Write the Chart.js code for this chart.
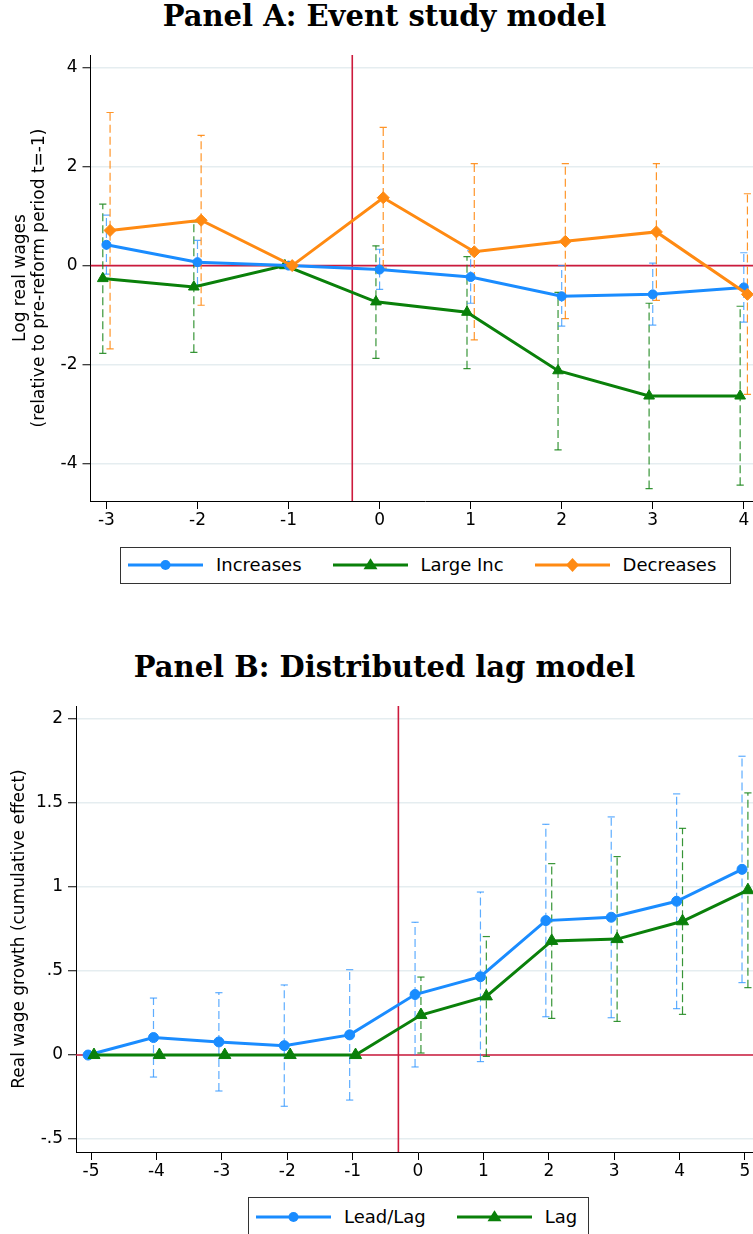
<!DOCTYPE html>
<html><head><meta charset="utf-8">
<script src="https://cdn.jsdelivr.net/npm/chart.js@4.4.0/dist/chart.umd.min.js"></script>
<style>
html,body{margin:0;padding:0;background:#fff;overflow:hidden;}
body{width:753px;height:1234px;position:relative;}
.ttl{position:absolute;left:0;width:769px;text-align:center;font-family:'DejaVu Serif';font-weight:bold;font-size:29px;line-height:29px;color:#000;white-space:nowrap;}
.cv{position:absolute;left:0;}
.leg{position:absolute;border:1px solid #333;box-sizing:border-box;background:#fff;display:flex;align-items:center;padding-left:7.5px;}
.item{display:flex;align-items:center;margin-right:31px;}
.item svg{margin-right:13px;display:block;}
.lt{font-family:'DejaVu Sans';font-size:18px;line-height:18px;color:#000;white-space:nowrap;}
</style></head><body>
<div class="ttl" style="top:1.5px">Panel A: Event study model</div>
<canvas class="cv" id="cA" width="769" height="498" style="top:39px"></canvas>
<div class="leg" id="lA" style="left:119.5px;top:546.5px;width:611.5px;height:37.5px"></div>
<div class="ttl" style="top:652.8px">Panel B: Distributed lag model</div>
<canvas class="cv" id="cB" width="769" height="498" style="top:690px"></canvas>
<div class="leg" id="lB" style="left:247.5px;top:1197px;width:341.5px;height:40px"></div>
<script>
// ---------- Panel A data (event study) ----------
const periodsA = [-3, -2, -1, 0, 1, 2, 3, 4];
const incA     = [0.42, 0.07, 0, -0.08, -0.23, -0.62, -0.58, -0.44];
const incLoA   = [-0.17, -0.39, null, -0.48, -0.76, -1.22, -1.20, -1.14];
const incHiA   = [1.02, 0.51, null, 0.33, 0.30, 0.00, 0.05, 0.26];
const largeA   = [-0.26, -0.43, 0, -0.73, -0.94, -2.12, -2.63, -2.63];
const largeLoA = [-1.77, -1.75, null, -1.87, -2.08, -3.72, -4.50, -4.43];
const largeHiA = [1.24, 0.88, null, 0.40, 0.18, -0.54, -0.76, -0.82];
const decA     = [0.71, 0.915, 0, 1.37, 0.28, 0.49, 0.68, -0.58];
const decLoA   = [-1.68, -0.80, null, -0.05, -1.50, -1.07, -0.70, -2.60];
const decHiA   = [3.09, 2.63, null, 2.79, 2.06, 2.06, 2.06, 1.45];
const xTicksA  = [-3, -2, -1, 0, 1, 2, 3, 4];
const xTickLabelsA = ['-3', '-2', '-1', '0', '1', '2', '3', '4'];
const yTicksA  = [-4, -2, 0, 2, 4];
const yTickLabelsA = ['-4', '-2', '0', '2', '4'];

// ---------- Panel B data (distributed lag) ----------
const periodsB  = [-5, -4, -3, -2, -1, 0, 1, 2, 3, 4, 5];
const leadLagB  = [0, 0.104, 0.078, 0.056, 0.12, 0.36, 0.466, 0.80, 0.82, 0.915, 1.105];
const leadLagLo = [null, -0.131, -0.214, -0.305, -0.268, -0.071, -0.039, 0.228, 0.222, 0.276, 0.431];
const leadLagHi = [null, 0.339, 0.371, 0.417, 0.508, 0.790, 0.970, 1.373, 1.417, 1.554, 1.778];
const lagB      = [0, 0, 0, 0, 0, 0.238, 0.349, 0.679, 0.690, 0.796, 0.981];
const lagLo     = [null, null, null, null, null, 0.012, -0.008, 0.218, 0.200, 0.242, 0.401];
const lagHi     = [null, null, null, null, null, 0.464, 0.705, 1.139, 1.181, 1.349, 1.560];
const xTicksB   = [-5, -4, -3, -2, -1, 0, 1, 2, 3, 4, 5];
const xTickLabelsB = ['-5', '-4', '-3', '-2', '-1', '0', '1', '2', '3', '4', '5'];
const yTicksB   = [-0.5, 0, 0.5, 1, 1.5, 2];
const yTickLabelsB = ['-.5', '0', '.5', '1', '1.5', '2'];

const reformX = -0.3;
const rangeA = {xmin: -3.175, xmax: 4.178, ymin: -4.75, ymax: 4.25};
const rangeB = {xmin: -5.23, xmax: 5.23, ymin: -0.577, ymax: 2.077};

const BLUE = '#1a8cff', GREEN = '#0a800a', ORANGE = '#ff8a12', RED = '#cc1a3c';
const BLUE_CI = 'rgba(40,145,255,0.75)', GREEN_CI = 'rgba(20,130,20,0.85)', ORANGE_CI = 'rgba(255,138,18,0.9)';

Chart.defaults.font.family = 'DejaVu Sans';

function pts(xs, ys, off) { return xs.map((x, i) => ({x: x + off, y: ys[i]})); }
function ciPts(xs, lo, hi, off) {
  const out = [];
  xs.forEach((x, i) => {
    if (lo[i] == null) return;
    out.push({x: x + off, y: lo[i]}, {x: x + off, y: hi[i]}, {x: x + off, y: null});
  });
  return out;
}
function mainDs(data, color, style, r, order) {
  return {data, borderColor: color, backgroundColor: color, borderWidth: 3, tension: 0,
    pointStyle: style, pointRadius: r, pointBorderWidth: 1, pointBackgroundColor: color,
    pointBorderColor: color, order};
}
function ciDs(data, color, order) {
  return {data, borderColor: color, borderWidth: 1.2, borderDash: [8, 4], spanGaps: false,
    pointStyle: 'line', pointRadius: 3.6, pointBorderWidth: 1.2, pointBorderColor: color,
    pointBackgroundColor: color, order};
}
function refDs(data) {
  return {data, borderColor: RED, borderWidth: 1.6, pointRadius: 0, order: 50};
}
function opts(range, xT, xL, yT, yL, yW, yTitle, titlePad) {
  const tickFont = {family: 'DejaVu Sans', size: 17};
  return {
    responsive: false, animation: false, events: [],
    layout: {padding: {top: 16, left: 0, right: 9, bottom: 0}},
    plugins: {legend: {display: false}, tooltip: {enabled: false}, title: {display: false}},
    scales: {
      x: {type: 'linear', min: range.xmin, max: range.xmax,
        afterBuildTicks: s => { s.ticks = xT.map(v => ({value: v})); },
        afterFit: s => { s.height = 36; },
        grid: {drawOnChartArea: false, drawTicks: true, tickLength: 8, tickColor: '#000', tickWidth: 1},
        border: {display: true, color: '#000', width: 1},
        ticks: {autoSkip: false, maxRotation: 0, minRotation: 0, padding: 1.5, color: '#000', font: tickFont,
          callback: (v, i) => xL[i]}},
      y: {type: 'linear', min: range.ymin, max: range.ymax,
        afterBuildTicks: s => { s.ticks = yT.map(v => ({value: v})); },
        afterFit: s => { s.width = yW; },
        grid: {color: '#e5edf0', lineWidth: 1.5, drawTicks: true, tickLength: 8, tickColor: '#000', tickWidth: 1},
        border: {display: true, color: '#000', width: 1},
        ticks: {padding: 5, color: '#000', font: tickFont, callback: (v, i) => yL[i]},
        title: {display: true, text: yTitle, color: '#000',
          font: {family: 'DejaVu Sans', size: 17, lineHeight: 1.1},
          padding: {top: titlePad, bottom: 0}}}
    }
  };
}

// Panel A chart
new Chart(document.getElementById('cA'), {
  type: 'line',
  data: {datasets: [
    mainDs(pts(periodsA, decA, 0.04), ORANGE, 'rectRot', 6, 1),
    mainDs(pts(periodsA, incA, 0), BLUE, 'circle', 4.5, 2),
    mainDs(pts(periodsA, largeA, -0.04), GREEN, 'triangle', 6.2, 3),
    ciDs(ciPts(periodsA, decLoA, decHiA, 0.04), ORANGE_CI, 10),
    ciDs(ciPts(periodsA, incLoA, incHiA, 0), BLUE_CI, 11),
    ciDs(ciPts(periodsA, largeLoA, largeHiA, -0.04), GREEN_CI, 12),
    refDs([{x: rangeA.xmin, y: 0}, {x: rangeA.xmax, y: 0}]),
    refDs([{x: reformX, y: rangeA.ymin}, {x: reformX, y: rangeA.ymax}])
  ]},
  options: opts(rangeA, xTicksA, xTickLabelsA, yTicksA, yTickLabelsA, 90.5,
    ['Log real wages', '(relative to pre-reform period t=-1)'], 11.6)
});

// Panel B chart
new Chart(document.getElementById('cB'), {
  type: 'line',
  data: {datasets: [
    mainDs(pts(periodsB, lagB, 0.045), GREEN, 'triangle', 7, 1),
    mainDs(pts(periodsB, leadLagB, -0.045), BLUE, 'circle', 5, 2),
    ciDs(ciPts(periodsB, lagLo, lagHi, 0.045), GREEN_CI, 10),
    ciDs(ciPts(periodsB, leadLagLo, leadLagHi, -0.045), BLUE_CI, 11),
    refDs([{x: rangeB.xmin, y: 0}, {x: rangeB.xmax, y: 0}]),
    refDs([{x: reformX, y: rangeB.ymin}, {x: reformX, y: rangeB.ymax}])
  ]},
  options: opts(rangeB, xTicksB, xTickLabelsB, yTicksB, yTickLabelsB, 76,
    'Real wage growth (cumulative effect)', 10.6)
});

// HTML legends
const seriesA = [['Increases', BLUE, 'circle'], ['Large Inc', GREEN, 'triangle'], ['Decreases', ORANGE, 'diamond']];
const seriesB = [['Lead/Lag', BLUE, 'circle'], ['Lag', GREEN, 'triangle']];
function marker(kind, color) {
  if (kind === 'circle') return `<circle cx="37.5" cy="8" r="5" fill="${color}"/>`;
  if (kind === 'triangle') return `<polygon points="37.5,1.3 44.5,12.3 30.5,12.3" fill="${color}"/>`;
  return `<polygon points="37.5,1 44,8 37.5,15 31,8" fill="${color}"/>`;
}
function buildLegend(id, series) {
  const el = document.getElementById(id);
  series.forEach(([name, color, kind]) => {
    const it = document.createElement('div');
    it.className = 'item';
    it.innerHTML = `<svg width="75" height="16" viewBox="0 0 75 16"><line x1="0" y1="8" x2="75" y2="8" stroke="${color}" stroke-width="3"/>${marker(kind, color)}</svg><span class="lt">${name}</span>`;
    el.appendChild(it);
  });
}
buildLegend('lA', seriesA);
buildLegend('lB', seriesB);
</script>
</body></html>
